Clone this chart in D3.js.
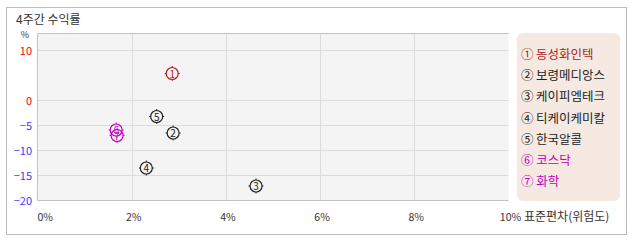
<!DOCTYPE html>
<html>
<head>
<meta charset="utf-8">
<script src="https://cdn.jsdelivr.net/npm/d3@7"></script>
<style>
  body { margin: 0; background: #fff; }
  svg text { font-family: "Noto Sans CJK KR", "Noto Sans", sans-serif; }
</style>
</head>
<body>
<div id="chart"></div>
<script>
// data
const names = ['동성화인텍', '보령메디앙스', '케이피엠테크', '티케이케미칼', '한국알콜', '코스닥', '화학'];
const marks = ['①', '②', '③', '④', '⑤', '⑥', '⑦'];
const risk = [2.86, 2.88, 4.64, 2.31, 2.53, 1.67, 1.69];     // 표준편차 %
const returns = [5.4, -6.5, -17.1, -13.5, -3.2, -5.9, -7.0]; // 4주간 수익률 %
const colors = ['#b01e1e', '#222222', '#222222', '#222222', '#222222', '#c000c0', '#c000c0'];
const xTicks = [0, 2, 4, 6, 8, 10];
const yTicks = [10, 0, -5, -10, -15, -20];

const W = 638, H = 242;
const plot = {left: 37.5, top: 33.5, right: 508.5, bottom: 200.5};

const svg = d3.select('#chart').append('svg')
    .attr('width', W)
    .attr('height', H);

// outer frame
svg.append('rect')
    .attr('x', 6.5).attr('y', 7.5)
    .attr('width', 620).attr('height', 227)
    .attr('fill', '#fff')
    .attr('stroke', '#bdbdbd');

svg.append('text')
    .attr('x', 16).attr('y', 24)
    .attr('font-size', 12)
    .attr('fill', '#333')
    .text('4주간 수익률');

const x = d3.scaleLinear().domain([0, 10]).range([plot.left, plot.right]);
const y = d3.scaleLinear().domain([-20, 10]).range([200.5, 50.5]);

// plot background
svg.append('rect')
    .attr('x', plot.left).attr('y', plot.top)
    .attr('width', plot.right - plot.left)
    .attr('height', plot.bottom - plot.top)
    .attr('fill', '#f4f4f4');

// grid
svg.append('g').selectAll('line').data(xTicks.slice(1, -1)).join('line')
    .attr('x1', d => Math.round(x(d)) + 0.5).attr('x2', d => Math.round(x(d)) + 0.5)
    .attr('y1', plot.top).attr('y2', plot.bottom)
    .attr('stroke', '#dcdcdc');
svg.append('g').selectAll('line').data(yTicks.slice(0, -1)).join('line')
    .attr('x1', plot.left).attr('x2', plot.right)
    .attr('y1', d => y(d)).attr('y2', d => y(d))
    .attr('stroke', '#dcdcdc');

// plot border (left, top, bottom)
svg.append('path')
    .attr('d', `M${plot.right},${plot.top}H${plot.left}V${plot.bottom}H${plot.right}`)
    .attr('fill', 'none')
    .attr('stroke', '#c4c4c4');

// y labels
svg.append('g').selectAll('text').data(yTicks).join('text')
    .attr('x', 32).attr('y', d => y(d) + 4)
    .attr('text-anchor', 'end')
    .attr('font-size', 11)
    .attr('fill', d => d >= 0 ? '#ff0000' : '#3a3aff')
    .text(d => d < 0 ? '\u2212' + Math.abs(d) : d);
svg.append('text')
    .attr('x', 25).attr('y', 38)
    .attr('text-anchor', 'middle')
    .attr('font-size', 9)
    .attr('fill', '#333')
    .text('%');

// x labels
svg.append('g').selectAll('text').data(xTicks).join('text')
    .attr('x', d => d === 0 ? x(d) : x(d) + 2)
    .attr('y', 221)
    .attr('text-anchor', d => d === 0 ? 'start' : 'middle')
    .attr('font-size', 10.5)
    .attr('fill', '#333')
    .text(d => d + '%');
svg.append('text')
    .attr('x', 524).attr('y', 221)
    .attr('font-size', 12)
    .attr('fill', '#333')
    .text('표준편차(위험도)');

// markers
const pts = svg.append('g').selectAll('g').data(d3.range(names.length)).join('g')
    .attr('transform', i => `translate(${x(risk[i])},${y(returns[i])})`);
pts.append('circle')
    .attr('r', 6)
    .attr('fill', 'none')
    .attr('stroke', i => colors[i])
    .attr('stroke-width', 1.2);
pts.append('path')
    .attr('d', 'M0,-7.5V-6M0,6V7.5M-7.5,0H-6M6,0H7.5')
    .attr('stroke', i => colors[i])
    .attr('stroke-width', 1);
pts.append('text')
    .attr('y', 4)
    .attr('text-anchor', 'middle')
    .attr('font-size', 10)
    .attr('fill', i => colors[i])
    .text(i => i + 1);

// legend
svg.append('rect')
    .attr('x', 517).attr('y', 33)
    .attr('width', 103).attr('height', 168)
    .attr('rx', 6)
    .attr('fill', '#f5e9e2');
svg.append('g').selectAll('text').data(d3.range(names.length)).join('text')
    .attr('x', 521)
    .attr('y', i => 59 + i * 21.2)
    .attr('font-size', 12.5)
    .attr('fill', i => colors[i])
    .text(i => marks[i] + (i >= 5 ? ' ' : '\u2009') + names[i]);
</script>
</body>
</html>
